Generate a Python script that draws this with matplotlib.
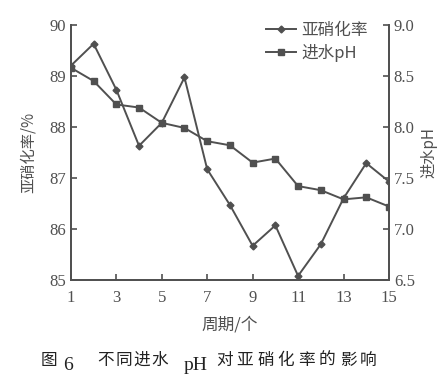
import matplotlib
matplotlib.use('Agg')
import matplotlib.pyplot as plt
from matplotlib.ticker import MultipleLocator

plt.rcParams['font.family'] = ['Liberation Serif', 'Noto Sans CJK SC']

# data
cycle = list(range(1, 16))
nitrite = [89.2, 89.63, 88.73, 87.63, 88.08, 88.97, 87.17, 86.47,
           85.67, 86.07, 85.08, 85.70, 86.6, 87.29, 86.93]
ph = [8.58, 8.45, 8.22, 8.19, 8.04, 7.99, 7.86, 7.82,
      7.65, 7.69, 7.42, 7.38, 7.29, 7.31, 7.22]
xticks = [1, 3, 5, 7, 9, 11, 13, 15]

c = '#505050'
cjk = ['Noto Sans CJK SC', 'Liberation Serif']

fig = plt.figure(figsize=(4.43, 3.83), dpi=100)
ax = fig.add_axes([0.160, 0.269, 0.718, 0.666])
ax2 = ax.twinx()

l1, = ax.plot(cycle, nitrite, color=c, lw=1.4, marker='D', ms=3.5, label='亚硝化率')
l2, = ax2.plot(cycle, ph, color=c, lw=1.4, marker='s', ms=4.5, label='进水pH')

ax.set_xlim(1, 15)
ax.set_ylim(85, 90)
ax2.set_ylim(6.5, 9.0)
ax.set_xticks(xticks)
ax.yaxis.set_major_locator(MultipleLocator(1))
ax2.yaxis.set_major_locator(MultipleLocator(0.5))
ax2.yaxis.set_major_formatter(plt.FormatStrFormatter('%.1f'))

for a in (ax, ax2):
    a.tick_params(direction='in', colors=c, labelsize=12, length=4, width=1.2)
    for s in a.spines.values():
        s.set_color(c)
        s.set_linewidth(1.3)
    a.spines['top'].set_visible(False)
ax.tick_params(axis='x', pad=7)

ax.set_ylabel('亚硝化率/%', family=cjk, fontsize=11, color=c, labelpad=9)
ax2.set_ylabel('进水pH', family=cjk, fontsize=11, color=c, labelpad=4)
ax.set_xlabel('周期/个', family=cjk, fontsize=12, color=c, labelpad=8)

leg = ax.legend(handles=[l1, l2], loc='upper right', frameon=False,
                prop={'family': cjk, 'size': 12}, handlelength=1.8,
                handletextpad=0.3, labelspacing=0.3,
                bbox_to_anchor=(0.98, 1.07), labelcolor=c)

# caption, character by character to keep the wide spacing
W, H = 443, 383
dark = '#222222'

def cap(chars, x0, pitch, y):
    for i, ch in enumerate(chars):
        fig.text((x0 + i * pitch) / W, 1 - y / H, ch, family=cjk,
                 fontsize=12, color=dark, va='center', ha='left')

cap('图', 41, 19, 360)
fig.text(63 / W, 1 - 365 / H, '6', fontsize=14, color=dark, va='center')
cap('不同进水', 97, 18, 360)
fig.text(184 / W, 1 - 366 / H, 'pH', fontsize=14, color=dark, va='center')
cap('对亚硝化率的影响', 216, 20.6, 360)

fig.savefig('out.png', dpi=100)
